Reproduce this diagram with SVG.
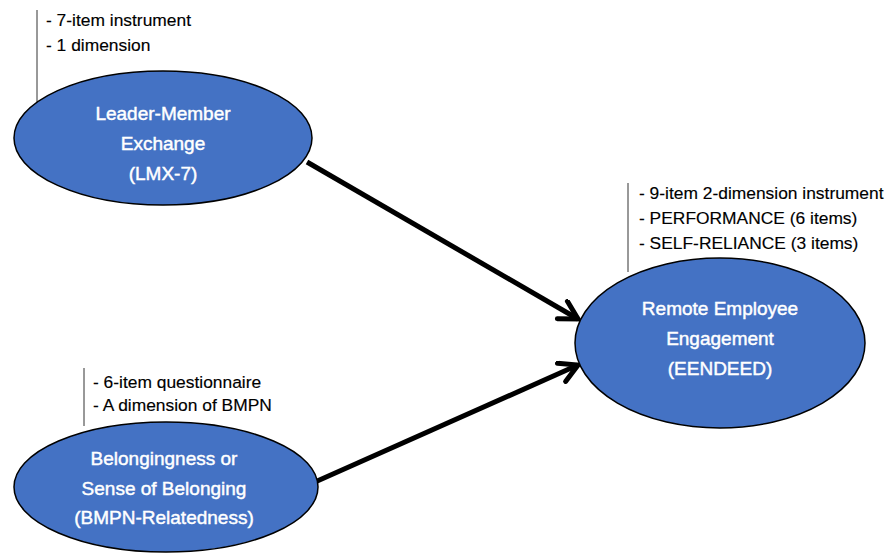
<svg xmlns="http://www.w3.org/2000/svg" width="892" height="555" viewBox="0 0 892 555">
  <style>
    .node { fill: #4472C4; stroke: #000; stroke-width: 1.5; }
    .label { font-family: "Liberation Sans", Arial, sans-serif; font-size: 19px; fill: #fff; stroke: #fff; stroke-width: 0.45; text-anchor: middle; }
    .note { font-family: "Liberation Sans", Arial, sans-serif; font-size: 17.4px; fill: #000; stroke: #000; stroke-width: 0.15; }
    .rule { stroke: #333; stroke-width: 1; }
    .edge { stroke: #000; stroke-width: 5; fill: none; }
  </style>
  <defs>
    <marker id="chevron" markerUnits="userSpaceOnUse" markerWidth="30" markerHeight="30" refX="24" refY="12" orient="auto">
      <path d="M6,2 L24,12 L6,22" fill="none" stroke="#000" stroke-width="5" stroke-linecap="round" stroke-linejoin="miter"/>
    </marker>
  </defs>

  <!-- white page -->
  <rect x="0" y="0" width="892" height="555" fill="#fff"/>

  <!-- connectors -->
  <g id="connectors">
    <line class="edge" x1="307" y1="162" x2="578" y2="319" marker-end="url(#chevron)"/>
    <line class="edge" x1="315" y1="482" x2="578" y2="365" marker-end="url(#chevron)"/>
  </g>

  <!-- Leader-Member Exchange -->
  <g id="node-lmx">
    <line class="rule" x1="37" y1="10" x2="37" y2="102"/>
    <text class="note" x="46" y="26">- 7-item instrument</text>
    <text class="note" x="46" y="51">- 1 dimension</text>
    <ellipse class="node" cx="163" cy="138" rx="149" ry="67"/>
    <text class="label" x="163" y="120">Leader-Member</text>
    <text class="label" x="163" y="150">Exchange</text>
    <text class="label" x="163" y="180">(LMX-7)</text>
  </g>

  <!-- Remote Employee Engagement -->
  <g id="node-engagement">
    <line class="rule" x1="628" y1="183" x2="628" y2="272"/>
    <text class="note" x="639" y="199">- 9-item 2-dimension instrument</text>
    <text class="note" x="639" y="224">- PERFORMANCE (6 items)</text>
    <text class="note" x="639" y="249">- SELF-RELIANCE (3 items)</text>
    <ellipse class="node" cx="720" cy="343" rx="145" ry="85"/>
    <text class="label" x="720" y="315">Remote Employee</text>
    <text class="label" x="720" y="345">Engagement</text>
    <text class="label" x="720" y="375">(EENDEED)</text>
  </g>

  <!-- Belongingness -->
  <g id="node-belonging">
    <line class="rule" x1="84" y1="368" x2="84" y2="426"/>
    <text class="note" x="93" y="388">- 6-item questionnaire</text>
    <text class="note" x="93" y="411">- A dimension of BMPN</text>
    <ellipse class="node" cx="166" cy="487" rx="152" ry="65"/>
    <text class="label" x="164" y="465">Belongingness or</text>
    <text class="label" x="164" y="495">Sense of Belonging</text>
    <text class="label" x="164" y="524">(BMPN-Relatedness)</text>
  </g>
</svg>
